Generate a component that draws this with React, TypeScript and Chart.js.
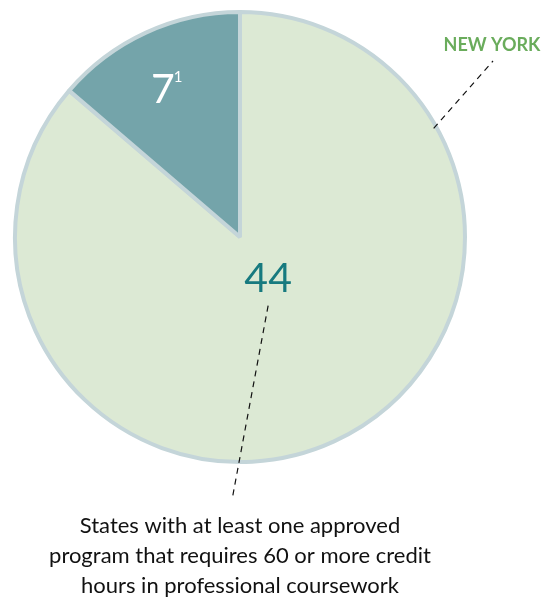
import React, { useEffect, useRef } from "react";
import { Chart, registerables } from "chart.js";

Chart.register(...registerables);

const categories: string[] = ["Other states", "States with 60+ credit hours"];
const values: number[] = [44, 7];
const valueLabels: string[] = ["44", "7"];
const footnotes: string[] = ["", "1"];
const calloutLabel = "NEW YORK";
const captionLines: string[] = [
  "States with at least one approved",
  "program that requires 60 or more credit",
  "hours in professional coursework",
];

const FILLS = ["#dce9d4", "#74a4aa"];
const BORDER = "#c4d5d9";
const FONT = "Lato, 'Open Sans', sans-serif";

const annotationPlugin = {
  id: "annot",
  afterDatasetsDraw(chart: any) {
    const ctx = chart.ctx as CanvasRenderingContext2D;
    const meta = chart.getDatasetMeta(0);
    const big = meta.data[0];
    const small = meta.data[1];
    const cx = big.x;
    const cy = big.y;
    const r = big.outerRadius;
    ctx.save();

    // small slice label
    {
      const mid = (small.startAngle + small.endAngle) / 2;
      const lx = cx + Math.cos(mid) * r * 0.82;
      const ly = cy + Math.sin(mid) * r * 0.72;
      ctx.fillStyle = "#ffffff";
      ctx.font = `400 41px ${FONT}`;
      ctx.textAlign = "center";
      ctx.textBaseline = "middle";
      ctx.fillText(valueLabels[1], lx, ly);
      const w = ctx.measureText(valueLabels[1]).width;
      ctx.font = `400 15px ${FONT}`;
      ctx.textAlign = "left";
      ctx.fillText(footnotes[1], lx + w / 2 - 1, ly - 13);
    }

    // big slice label
    const bx = cx + r * 0.125;
    const by = cy + r * 0.185;
    ctx.fillStyle = "#177a7f";
    ctx.font = `400 41px ${FONT}`;
    ctx.textAlign = "center";
    ctx.textBaseline = "middle";
    ctx.fillText(valueLabels[0], bx, by);

    ctx.strokeStyle = "#111111";
    ctx.lineWidth = 1.2;
    ctx.setLineDash([6, 5]);

    // leader from 44 to caption
    ctx.beginPath();
    ctx.moveTo(bx, by + 27);
    ctx.lineTo(cx - 8, cy + 263);
    ctx.stroke();

    // NEW YORK leader
    const a = -Math.PI / 2 + 1.06;
    const ex = cx + Math.cos(a) * (r - 3);
    const ey = cy + Math.sin(a) * (r - 3);
    ctx.beginPath();
    ctx.moveTo(ex, ey);
    ctx.lineTo(cx + 253, cy - 176);
    ctx.stroke();
    ctx.setLineDash([]);

    ctx.fillStyle = "#6aac5c";
    ctx.font = `700 18px ${FONT}`;
    ctx.textAlign = "center";
    ctx.fillText(calloutLabel, cx + 252, cy - 192);

    // caption
    ctx.fillStyle = "#111111";
    ctx.font = `400 22px ${FONT}`;
    ctx.textAlign = "center";
    captionLines.forEach((t, i) => {
      ctx.fillText(t, cx, cy + 289 + i * 30);
    });

    ctx.restore();
  },
};

export default function App() {
  const ref = useRef<HTMLCanvasElement | null>(null);
  useEffect(() => {
    if (!ref.current) return;
    const chart = new Chart(ref.current, {
      type: "pie",
      data: {
        labels: categories,
        datasets: [
          {
            data: values,
            backgroundColor: FILLS,
            borderColor: BORDER,
            borderWidth: 4,
          },
        ],
      },
      options: {
        animation: false,
        responsive: false,
        events: [],
        rotation: 0,
        layout: { padding: { left: 13, right: 80, top: 10, bottom: 135 } },
        plugins: {
          legend: { display: false },
          tooltip: { enabled: false },
        },
      },
      plugins: [annotationPlugin],
    });
    return () => chart.destroy();
  }, []);
  return (
    <div style={{ position: "absolute", left: 0, top: 0, width: 547, height: 599, background: "#ffffff" }}>
      <canvas ref={ref} width={547} height={599} style={{ width: 547, height: 599 }} />
    </div>
  );
}
